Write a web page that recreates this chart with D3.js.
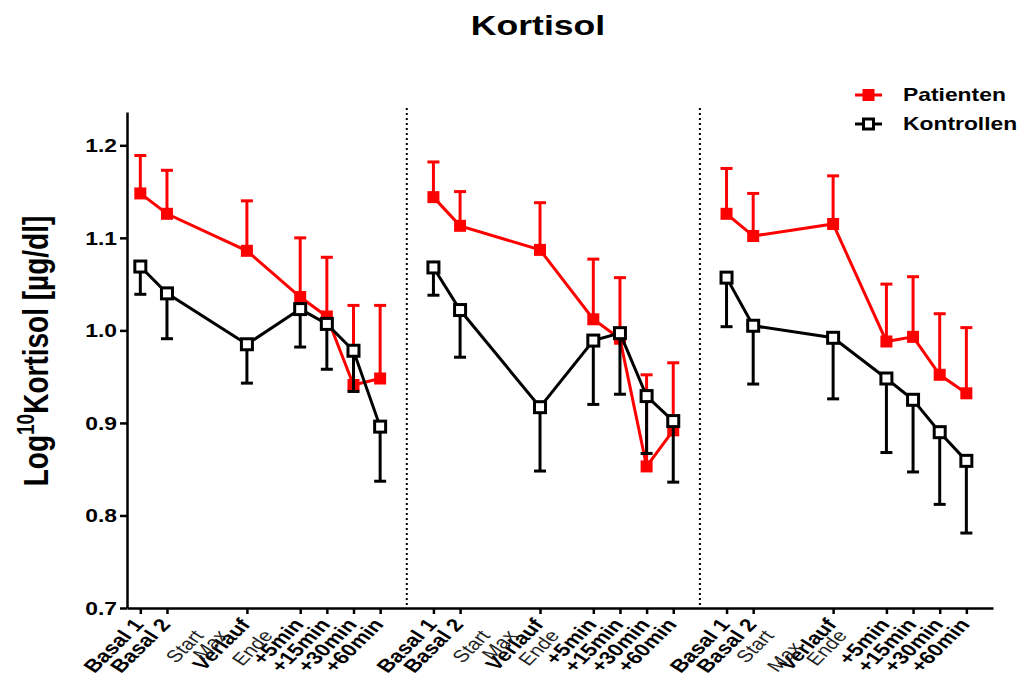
<!DOCTYPE html>
<html><head><meta charset="utf-8">
<script src="https://cdn.jsdelivr.net/npm/d3@7"></script>
<style>body{margin:0;background:#fff}svg{display:block}</style>
</head><body><svg id="c" width="1026" height="678"></svg>
<script>
// ---------- data ----------
const categories = ["Basal 1","Basal 2","Verlauf","+5min","+15min","+30min","+60min"];
const categoryPos = [0,1,4,6,7,8,9];
const panelCount = 3;
const yTicks = [0.7,0.8,0.9,1.0,1.1,1.2];
const seriesNames = ["Patienten","Kontrollen"];
const patientenMean = [
  [1.148,1.126,1.086,1.036,1.015,0.941,0.948],
  [1.144,1.113,1.087,1.012,0.991,0.853,0.892],
  [1.126,1.102,1.115,0.988,0.993,0.952,0.932]];
const patientenSEM = [
  [0.041,0.047,0.054,0.064,0.064,0.086,0.079],
  [0.038,0.037,0.051,0.065,0.066,0.099,0.073],
  [0.049,0.046,0.052,0.062,0.065,0.066,0.071]];
const kontrollenMean = [
  [1.069,1.040,0.985,1.023,1.007,0.978,0.896],
  [1.068,1.022,0.917,0.989,0.997,0.929,0.902],
  [1.057,1.005,0.992,0.948,0.925,0.890,0.859]];
const kontrollenSEM = [
  [0.030,0.049,0.042,0.041,0.049,0.044,0.059],
  [0.030,0.051,0.069,0.069,0.066,0.062,0.066],
  [0.053,0.063,0.066,0.080,0.078,0.078,0.078]];
const annotLabels = ["Start","Max","Ende"];
const annotPos = [[2.3,3.2,4.9],[2.05,3.05,4.65],[1.7,2.75,4.45]];

// ---------- layout ----------
const SX = 1.27;               // horizontal stretch of the original picture
const FONT = "'Liberation Sans', Arial, Helvetica, sans-serif";
const panelStep = 11;
const svg = d3.select("#c").style("font-family", FONT);
const x = d3.scaleLinear().domain([-0.5, 32]).range([127, 993]);
const y = d3.scaleLinear().domain([0.7, 1.236]).range([608, 112]);
const RED = "#ff0000", BLACK = "#000000";

// title
svg.append("text").attr("transform", `translate(538,35) scale(${SX},1)`)
  .attr("text-anchor","middle").attr("font-size",28).attr("font-weight","bold").text("Kortisol");

// y label
const yl = svg.append("text").attr("transform", `translate(48,351) scale(${SX},1) rotate(-90)`)
  .attr("text-anchor","middle").attr("font-size",28).attr("font-weight","bold");
yl.append("tspan").text("Log");
yl.append("tspan").attr("font-size",19).attr("dy",-11).text("10");
yl.append("tspan").attr("dy",11).text("Kortisol [µg/dl]");

// separators
[10, 21].forEach(p => {
  svg.append("line").attr("x1",x(p)).attr("x2",x(p)).attr("y1",108).attr("y2",y(0.7))
    .attr("stroke","#000").attr("stroke-width",2).attr("stroke-dasharray","2,3");
});

// axes
const yAxis = d3.axisLeft(y).tickValues(yTicks).tickFormat(d3.format(".1f")).tickSize(7).tickSizeOuter(0);
const gy = svg.append("g").attr("transform",`translate(${x(-0.5)},0)`).call(yAxis);
gy.selectAll("path,line").attr("stroke","#000").attr("stroke-width",2.5);
gy.selectAll("text").attr("x",0).attr("dy","0.36em").attr("fill","#000")
  .attr("transform",`translate(-10,0) scale(${SX},1)`).attr("text-anchor","end")
  .attr("font-size",18).attr("font-weight","bold").attr("font-family",FONT);

const tickVals = [], tickLab = {};
for (let p = 0; p < panelCount; p++) categoryPos.forEach((c,i) => { const v = p*panelStep + c; tickVals.push(v); tickLab[v] = categories[i]; });
const xAxis = d3.axisBottom(x).tickValues(tickVals).tickFormat(v => tickLab[v]).tickSize(6).tickSizeOuter(0);
const gx = svg.append("g").attr("transform",`translate(0,${y(0.7)})`).call(xAxis);
gx.selectAll("path,line").attr("stroke","#000").attr("stroke-width",2.5);
gx.selectAll("text").attr("x",0).attr("y",0).attr("dy",0).attr("fill","#000")
  .attr("text-anchor","end").attr("font-size",18).attr("font-weight","bold").attr("font-family",FONT)
  .attr("transform",`translate(4,17) scale(${SX},1) rotate(-51)`);

// annotation labels (Start / Max / Ende)
for (let p = 0; p < panelCount; p++) annotLabels.forEach((t,i) => {
  const dy = (p === 2 && i === 1) ? 12 : 0;
  svg.append("text").attr("text-anchor","end").attr("font-size",17).attr("fill","#222")
    .attr("transform",`translate(${x(p*panelStep + annotPos[p][i]) + 3},${636 + dy}) scale(${SX},1) rotate(-51)`)
    .text(t);
});

// series
function drawSeries(means, sems, color, filled, dir) {
  for (let p = 0; p < panelCount; p++) {
    const pts = categoryPos.map((c,i) => ({x: x(p*panelStep + c), m: means[p][i], e: sems[p][i]}));
    const g = svg.append("g");
    g.selectAll("line.err").data(pts).join("line")
      .attr("x1",d=>d.x).attr("x2",d=>d.x).attr("y1",d=>y(d.m)).attr("y2",d=>y(d.m + dir*d.e))
      .attr("stroke",color).attr("stroke-width",3);
    g.selectAll("line.cap").data(pts).join("line")
      .attr("x1",d=>d.x-6).attr("x2",d=>d.x+6).attr("y1",d=>y(d.m + dir*d.e)).attr("y2",d=>y(d.m + dir*d.e))
      .attr("stroke",color).attr("stroke-width",3);
    g.append("path").datum(pts)
      .attr("d", d3.line().x(d=>d.x).y(d=>y(d.m)))
      .attr("fill","none").attr("stroke",color).attr("stroke-width",3);
    const s = filled ? 12 : 11;
    g.selectAll("rect").data(pts).join("rect")
      .attr("x",d=>d.x-s/2).attr("y",d=>y(d.m)-s/2).attr("width",s).attr("height",s)
      .attr("fill", filled ? color : "#fff").attr("stroke", filled ? "none" : color).attr("stroke-width",3);
  }
}
drawSeries(patientenMean, patientenSEM, RED, true, 1);
drawSeries(kontrollenMean, kontrollenSEM, BLACK, false, -1);

// legend
const legend = [{name: seriesNames[0], color: RED, filled: true, yy: 95},
                {name: seriesNames[1], color: BLACK, filled: false, yy: 124}];
legend.forEach(l => {
  svg.append("line").attr("x1",855).attr("x2",882).attr("y1",l.yy).attr("y2",l.yy)
    .attr("stroke",l.color).attr("stroke-width",3);
  const s = l.filled ? 12 : 10;
  svg.append("rect").attr("x",868.5-s/2).attr("y",l.yy-s/2).attr("width",s).attr("height",s)
    .attr("fill", l.filled ? l.color : "#fff").attr("stroke", l.filled ? "none" : l.color).attr("stroke-width",3);
  svg.append("text").attr("transform",`translate(903,${l.yy+6}) scale(${SX},1)`)
    .attr("font-size",18).attr("font-weight","bold").text(l.name);
});
</script>
</body></html>
